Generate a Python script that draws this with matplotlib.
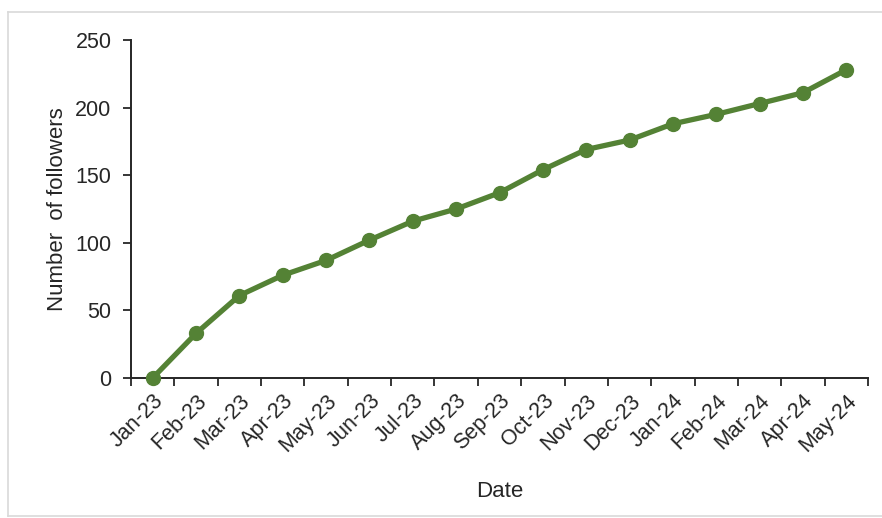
import numpy as np
import matplotlib.pyplot as plt
from matplotlib.lines import Line2D

months = ["Jan-23", "Feb-23", "Mar-23", "Apr-23", "May-23", "Jun-23",
          "Jul-23", "Aug-23", "Sep-23", "Oct-23", "Nov-23", "Dec-23",
          "Jan-24", "Feb-24", "Mar-24", "Apr-24", "May-24"]
followers = [0, 33, 61, 76, 87, 102, 116, 125, 137, 154, 169, 176,
             188, 195, 203, 211, 228]

plt.rcParams["font.family"] = ["Liberation Sans", "DejaVu Sans"]
text_color = "#262626"
green = "#548235"

fig = plt.figure(figsize=(8.82, 5.18), dpi=100)
ax = fig.add_axes([131 / 882, 1 - 378 / 518, (868 - 131) / 882, (378 - 40) / 518])

x = np.arange(len(months))
ax.plot(x, followers, color=green, lw=3.8, marker="o", ms=10,
        markerfacecolor=green, markeredgecolor=green, zorder=3, clip_on=False)

ax.set_xlim(-0.5, len(months) - 0.5)
ax.set_ylim(0, 250)
ax.set_yticks(np.arange(0, 251, 50))

# category boundary ticks, labels sit on the centres
ax.set_xticks(np.arange(-0.5, len(months), 1))
ax.set_xticklabels([])
ax.set_xticks(x, minor=True)
ax.set_xticklabels(months, minor=True, rotation=45, ha="right",
                   rotation_mode="anchor", fontsize=15.5, color=text_color)
ax.tick_params(axis="x", which="major", direction="out", length=6, width=1.3,
               color=text_color)
ax.tick_params(axis="x", which="minor", length=0, pad=9)
ax.tick_params(axis="y", direction="out", length=6, width=1.3, color=text_color,
               labelsize=15.5, labelcolor=text_color, pad=8)

for side in ["top", "right"]:
    ax.spines[side].set_visible(False)
for side in ["left", "bottom"]:
    ax.spines[side].set_linewidth(1.4)
    ax.spines[side].set_color(text_color)

ax.set_xlabel("Date", fontsize=16, color=text_color, labelpad=18)
ax.set_ylabel("Number  of followers", fontsize=16, color=text_color, labelpad=5)

# light frame round the chart
border = "#d9d9d9"
fig.add_artist(Line2D([8 / 882, 1], [1 - 12 / 518] * 2, color=border, lw=1.2,
                      transform=fig.transFigure))
fig.add_artist(Line2D([8 / 882] * 2, [1 - 12 / 518, 1 - 516 / 518], color=border,
                      lw=1.2, transform=fig.transFigure))
fig.add_artist(Line2D([8 / 882, 1], [1 - 516 / 518] * 2, color=border, lw=1.2,
                      transform=fig.transFigure))

fig.savefig("out.png", dpi=100)
